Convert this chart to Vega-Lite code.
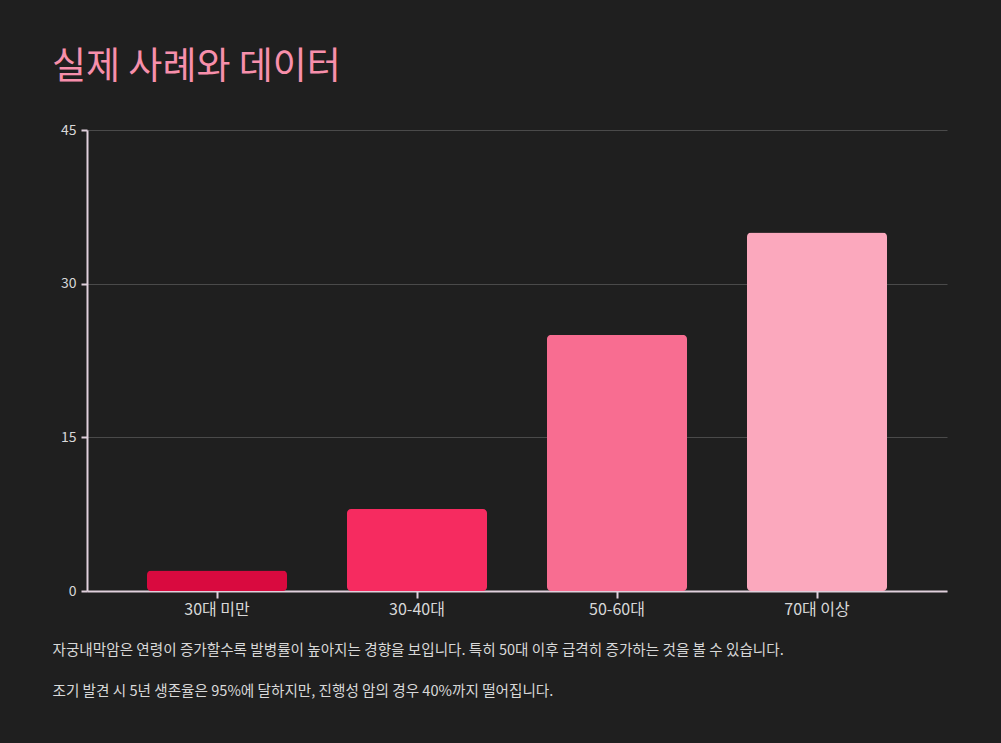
{
  "$schema": "https://vega.github.io/schema/vega-lite/v6.json",
  "autosize": "none",
  "width": 860,
  "height": 461,
  "padding": {"left": 87, "top": 130, "right": 54, "bottom": 152},
  "background": "#1f1f1f",
  "title": {
    "text": "실제 사례와 데이터",
    "anchor": "start",
    "frame": "group",
    "dx": -35,
    "offset": 36,
    "fontSize": 37,
    "fontWeight": "normal",
    "font": "Noto Sans CJK KR",
    "color": "#f78fab"
  },
  "data": {
    "values": [
      {"age": "30대 미만", "value": 2, "color": "#d90a3f"},
      {"age": "30-40대", "value": 8, "color": "#f62b60"},
      {"age": "50-60대", "value": 25, "color": "#f86d91"},
      {"age": "70대 이상", "value": 35, "color": "#fba8bd"}
    ]
  },
  "config": {
    "view": {"stroke": null},
    "font": "Noto Sans CJK KR"
  },
  "mark": {"type": "bar", "cornerRadius": 4},
  "encoding": {
    "x": {
      "field": "age",
      "type": "nominal",
      "sort": null,
      "scale": {"paddingInner": 0.3, "paddingOuter": 0.3},
      "axis": {
        "labelAngle": 0,
        "labelFontSize": 16,
        "labelColor": "#d8d8d8",
        "labelPadding": 3,
        "domainColor": "#e0d0dc",
        "domainWidth": 2,
        "tickColor": "#e0d0dc",
        "tickWidth": 2,
        "tickSize": 7,
        "title": ["자궁내막암은 연령이 증가할수록 발병률이 높아지는 경향을 보입니다. 특히 50대 이후 급격히 증가하는 것을 볼 수 있습니다.", "조기 발견 시 5년 생존율은 95%에 달하지만, 진행성 암의 경우 40%까지 떨어집니다."],
        "titleFontSize": 14.6,
        "titleFontWeight": "normal",
        "titleColor": "#d8d8d8",
        "titleAnchor": "start",
        "titleAlign": "left",
        "titleLineHeight": 41,
        "titleX": -35,
        "titlePadding": 25
      }
    },
    "y": {
      "field": "value",
      "type": "quantitative",
      "scale": {"domain": [0, 45]},
      "axis": {
        "values": [0, 15, 30, 45],
        "labelFontSize": 14,
        "labelColor": "#d8d8d8",
        "labelPadding": 5,
        "domainColor": "#e0d0dc",
        "domainWidth": 2,
        "tickColor": "#e0d0dc",
        "tickWidth": 2,
        "tickSize": 6,
        "gridColor": "#4a4a4a",
        "gridWidth": 1,
        "title": null
      }
    },
    "color": {"field": "color", "type": "nominal", "scale": null, "legend": null}
  }
}
